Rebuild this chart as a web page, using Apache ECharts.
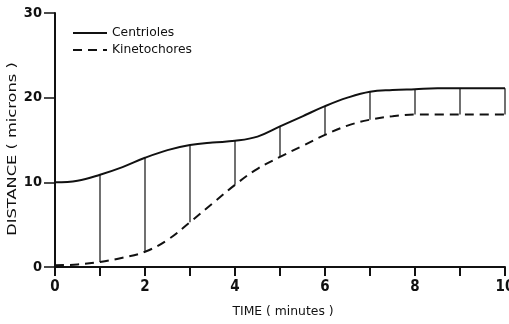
<!DOCTYPE html>
<html><head><meta charset="utf-8">
<script src="https://cdn.jsdelivr.net/npm/echarts@6/dist/echarts.min.js"></script>
<style>html,body{margin:0;padding:0;background:#fff}#c{width:509px;height:324px}</style>
</head><body><div id="c"></div>
<script>
var minutes = [0,0.5,1,1.5,2,2.5,3,3.5,4,4.5,5,5.5,6,6.5,7,7.5,8,8.5,9,9.5,10];
var centrioles = [10,10.2,10.9,11.8,12.9,13.8,14.4,14.7,14.9,15.4,16.6,17.8,19.0,20.0,20.7,20.9,21.0,21.1,21.1,21.1,21.1];
var kinetochores = [0.2,0.3,0.6,1.1,1.8,3.2,5.3,7.5,9.7,11.6,13.0,14.3,15.6,16.7,17.4,17.8,18.0,18.0,18.0,18.0,18.0];
var dropMinutes = [1,2,3,4,5,6,7,8,9,10];
var xTicks = [0,2,4,6,8,10];
var yTicks = [0,10,20,30];
var xTitle = 'TIME ( minutes )';
var yTitle = 'DISTANCE ( microns )';

function pairs(xs, ys){ return xs.map(function(x,i){ return [x, ys[i]]; }); }
var drops = dropMinutes.map(function(m){
  var i = minutes.indexOf(m);
  return [m, kinetochores[i], centrioles[i]];
});
var font = '"DejaVu Sans", sans-serif';
var numFont = '"DejaVu Sans Condensed", sans-serif';
var chart = echarts.init(document.getElementById('c'));
chart.setOption({
  animation: false,
  backgroundColor: '#fff',
  grid: {left: 55, right: 4, top: 13, bottom: 57, outerBoundsMode: 'none', containLabel: false},
  legend: {
    left: 67, top: 22, orient: 'vertical', itemWidth: 34, itemHeight: 10, itemGap: 5,
    itemStyle: {opacity: 0},
    textStyle: {color: '#111', fontFamily: font, fontSize: 12.3},
    data: ['Centrioles', 'Kinetochores']
  },
  graphic: [
    {type: 'text', x: 283, y: 312, scaleX: 1.03,
      style: {text: xTitle, fill: '#111', font: '12px "DejaVu Sans", sans-serif', textAlign: 'center', textVerticalAlign: 'middle'}},
    {type: 'text', x: 13, y: 149, rotation: Math.PI / 2, scaleX: 1.3,
      style: {text: yTitle, fill: '#111', font: '12.5px "DejaVu Sans", sans-serif', textAlign: 'center', textVerticalAlign: 'middle'}}
  ],
  xAxis: {
    type: 'value', min: 0, max: 10, interval: 1,
    axisLine: {lineStyle: {color: '#111', width: 2}},
    axisTick: {length: 9, lineStyle: {color: '#111', width: 2}},
    axisLabel: {color: '#111', fontFamily: numFont, fontSize: 15, fontWeight: 'bold', margin: 13,
      formatter: function(v){ return xTicks.indexOf(v) >= 0 ? String(v) : ''; }},
    splitLine: {show: false}
  },
  yAxis: {
    type: 'value', min: 0, max: 30, interval: 10,
    axisLine: {show: true, lineStyle: {color: '#111', width: 2}},
    axisTick: {show: true, length: 11, lineStyle: {color: '#111', width: 1.5}},
    axisLabel: {color: '#111', fontFamily: numFont, fontSize: 14.5, fontWeight: 'bold', margin: 13,
      formatter: function(v){ return yTicks.indexOf(v) >= 0 ? String(v) : ''; }},
    splitLine: {show: false}
  },
  series: [
    {name: 'Centrioles', type: 'line', smooth: 0.4, symbol: 'none',
      lineStyle: {color: '#111', width: 2}, itemStyle: {color: '#111'},
      data: pairs(minutes, centrioles)},
    {name: 'Kinetochores', type: 'line', smooth: 0.4, symbol: 'none',
      lineStyle: {color: '#111', width: 2, type: [9, 6]}, itemStyle: {color: '#111'},
      data: pairs(minutes, kinetochores)},
    {type: 'custom', silent: true, z: 1,
      renderItem: function(params, api){
        var p1 = api.coord([api.value(0), api.value(1)]);
        var p2 = api.coord([api.value(0), api.value(2)]);
        return {type: 'line', shape: {x1: p1[0], y1: p1[1], x2: p2[0], y2: p2[1]},
          style: {stroke: '#111', lineWidth: 1.2}};
      },
      encode: {x: 0, y: [1, 2]},
      data: drops}
  ]
});
</script></body></html>
